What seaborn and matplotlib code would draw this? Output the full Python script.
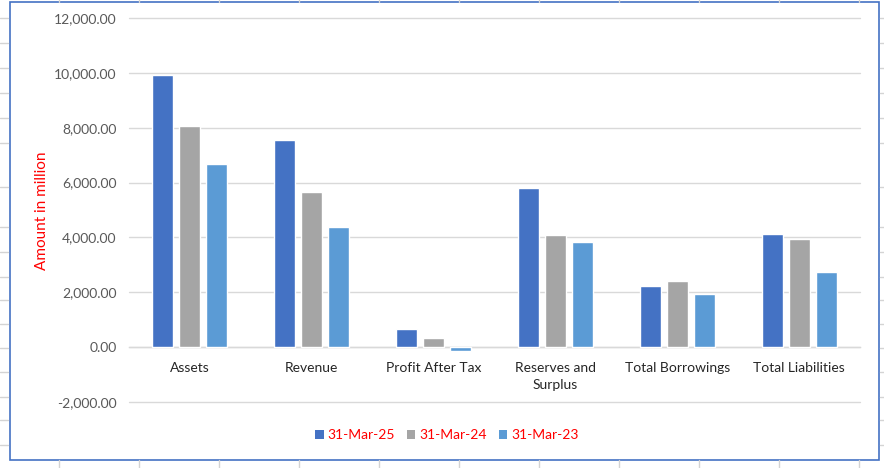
import matplotlib
matplotlib.use("Agg")
import matplotlib.pyplot as plt
import seaborn as sns
import pandas as pd
from matplotlib.patches import Rectangle, Patch
from matplotlib.lines import Line2D
from matplotlib.ticker import FuncFormatter

categories = ["Assets", "Revenue", "Profit After Tax", "Reserves and\nSurplus",
              "Total Borrowings", "Total Liabilities"]
periods = ["31-Mar-25", "31-Mar-24", "31-Mar-23"]
values_2025 = [9940, 7540, 655, 5795, 2230, 4120]
values_2024 = [8045, 5645, 330, 4085, 2410, 3940]
values_2023 = [6665, 4375, -135, 3830, 1940, 2740]
colors = ["#4472C4", "#A5A5A5", "#5B9BD5"]
yticks = list(range(-2000, 12001, 2000))

rows = []
for p, vals in zip(periods, [values_2025, values_2024, values_2023]):
    for c, v in zip(categories, vals):
        rows.append({"category": c, "period": p, "value": v})
df = pd.DataFrame(rows)

sns.set_theme(style="white")
plt.rcParams["font.family"] = ["Lato", "DejaVu Sans"]

W, H = 884, 468
fig = plt.figure(figsize=(W / 100, H / 100), dpi=100)
fig.patch.set_facecolor("white")

# spreadsheet cell lines outside the chart
cell = "#d4d4d4"
for x in range(59, 884, 80):
    fig.add_artist(Line2D([x / W, x / W], [0, (468 - 460) / H], color=cell, lw=1))
    fig.add_artist(Line2D([x / W, x / W], [1 - 2 / H, 1], color=cell, lw=1))
for y in [18, 43, 68, 93, 118, 143, 187, 227, 252, 277, 300, 324, 348, 372, 397, 420, 445]:
    fig.add_artist(Line2D([0, 8 / W], [1 - y / H, 1 - y / H], color=cell, lw=1))
    fig.add_artist(Line2D([880 / W, 1], [1 - y / H, 1 - y / H], color=cell, lw=1))

# chart border
fig.add_artist(Rectangle((9.5 / W, 1 - 459.5 / H), (879 - 9.5) / W, (459.5 - 1.5) / H,
                         transform=fig.transFigure, fill=False, edgecolor="#4472C4", lw=1.2))

ax = fig.add_axes([129 / W, 1 - 402 / H, (860 - 129) / W, (402 - 18) / H])
sns.barplot(data=df, x="category", y="value", hue="period", palette=colors,
            hue_order=periods, order=categories, width=0.665, gap=0.225,
            ax=ax, legend=False, saturation=1, errorbar=None)

ax.set_ylim(-2000, 12000)
ax.set_xlim(-0.5, len(categories) - 0.5)
ax.set_yticks(yticks)
ax.yaxis.set_major_formatter(FuncFormatter(lambda v, p: f"{v:,.2f}"))
ax.grid(axis="y", color="#d9d9d9", lw=1)
for gl in ax.get_ygridlines():
    gl.set_clip_on(False)
ax.set_axisbelow(True)
for s in ["left", "right", "top"]:
    ax.spines[s].set_visible(False)
ax.spines["bottom"].set_position(("data", 0))
ax.spines["bottom"].set_color("#d9d9d9")
ax.spines["bottom"].set_linewidth(1)
ax.spines["bottom"].set_zorder(0.5)
ax.tick_params(axis="y", length=0, pad=9, labelsize=10, labelcolor="#595959")
ax.tick_params(axis="x", length=0, pad=10.5, labelsize=10, labelcolor="#262626")
ax.set_xlabel("")
ax.set_ylabel("")
for lab in ax.get_xticklabels():
    lab.set_linespacing(1.5)

fig.text(42 / W, 1 - 211 / H, "Amount in million", rotation=90, color="red",
         fontsize=11, ha="center", va="center")

handles = [Patch(facecolor=c, edgecolor="none") for c in colors]
leg = fig.legend(handles, periods, loc="center", bbox_to_anchor=(447 / W, 1 - 435 / H),
                 ncol=3, frameon=False, fontsize=10, handlelength=0.6, handleheight=0.6,
                 handletextpad=0.3, columnspacing=0.85, labelcolor="red")

fig.savefig("out.png", dpi=100, facecolor="white")
